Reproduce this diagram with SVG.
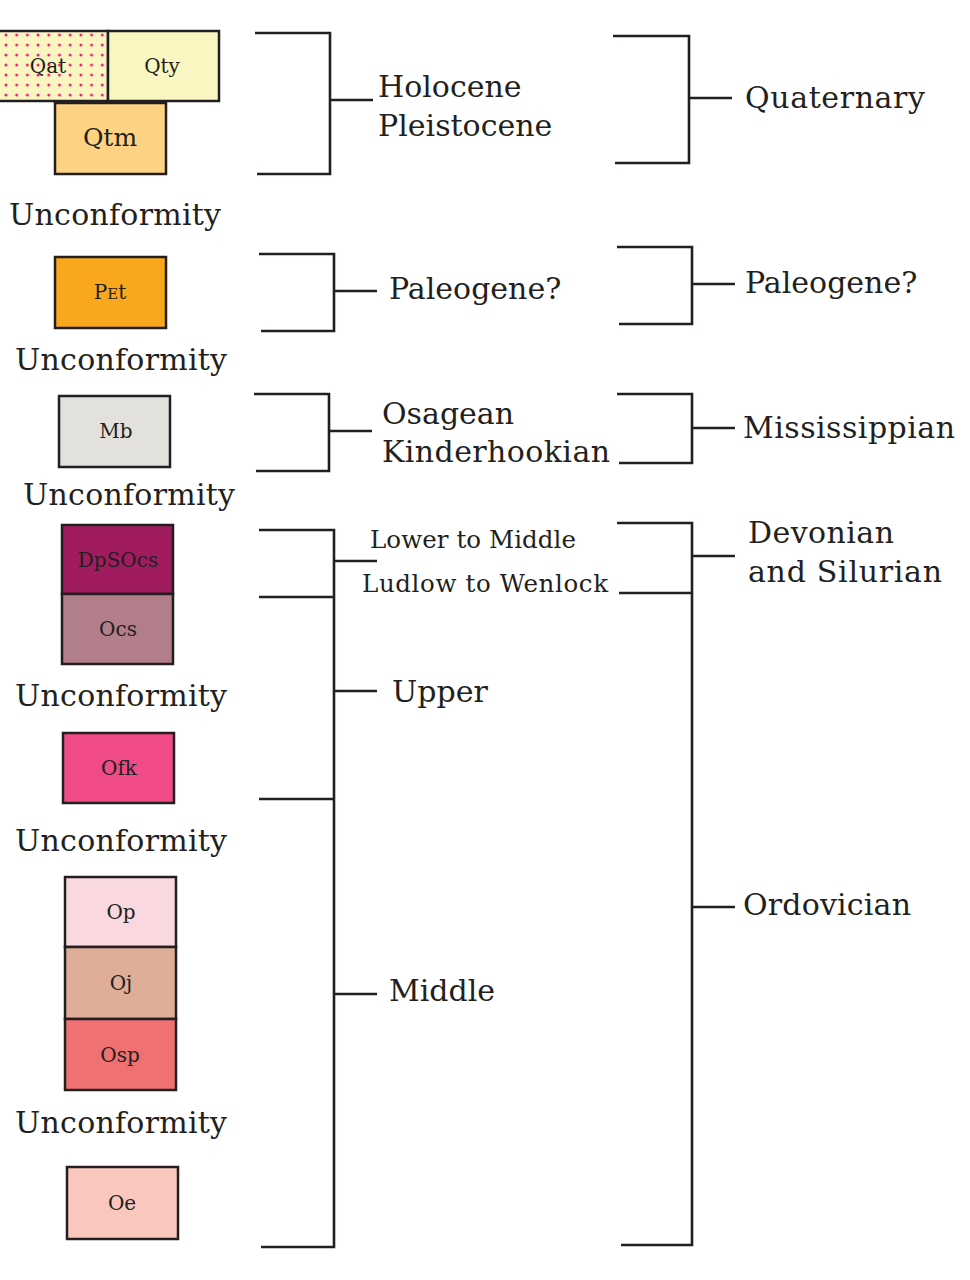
<svg xmlns="http://www.w3.org/2000/svg" width="970" height="1280" viewBox="0 0 970 1280">
<defs>
<pattern id="dots" x="4" y="3" width="10.7" height="10" patternUnits="userSpaceOnUse">
<circle cx="2" cy="2" r="1.5" fill="#e8247a"/>
</pattern>
<style>
.box{stroke:#231f20;stroke-width:2.5}
.bl{font-family:"DejaVu Serif","Liberation Serif",serif;font-size:20px;fill:#231f20;text-anchor:middle}
.lab{font-family:"DejaVu Serif","Liberation Serif",serif;font-size:30px;fill:#231f20}
.sm{font-family:"DejaVu Serif","Liberation Serif",serif;font-size:24.5px;fill:#231f20}
.br{fill:none;stroke:#231f20;stroke-width:2.6}
</style>
</defs>
<rect width="970" height="1280" fill="#ffffff"/>

<g id="Qat"><rect class="box" x="-3" y="31" width="111" height="70" fill="#faf6c2"/><rect x="0" y="33" width="107" height="67" fill="url(#dots)"/><text class="bl" x="48" y="73">Qat</text></g>
<g id="Qty"><rect class="box" x="108" y="31" width="111" height="70" fill="#faf6c2"/><text class="bl" x="162" y="73">Qty</text></g>
<g id="Qtm"><rect class="box" x="55" y="103" width="111" height="71" fill="#fed283"/><text class="bl" x="110" y="146" style="font-size:25px">Qtm</text></g>
<g id="PEt"><rect class="box" x="55" y="257" width="111" height="71" fill="#f9a81e"/><text class="bl" x="110" y="299">P<tspan style="font-size:15px">E</tspan>t</text></g>
<g id="Mb"><rect class="box" x="59" y="396" width="111" height="71" fill="#e2e1dc"/><text class="bl" x="116" y="438">Mb</text></g>
<g id="DpSOcs"><rect class="box" x="62" y="525" width="111" height="69" fill="#a01c5e"/><text class="bl" x="118" y="567">DpSOcs</text></g>
<g id="Ocs"><rect class="box" x="62" y="594" width="111" height="70" fill="#b27e89"/><text class="bl" x="118" y="636">Ocs</text></g>
<g id="Ofk"><rect class="box" x="63" y="733" width="111" height="70" fill="#f04a87"/><text class="bl" x="119" y="775">Ofk</text></g>
<g id="Op"><rect class="box" x="65" y="877" width="111" height="70" fill="#f9d9df"/><text class="bl" x="121" y="919">Op</text></g>
<g id="Oj"><rect class="box" x="65" y="947" width="111" height="72" fill="#deae98"/><text class="bl" x="121" y="990">Oj</text></g>
<g id="Osp"><rect class="box" x="65" y="1019" width="111" height="71" fill="#f07172"/><text class="bl" x="120" y="1062">Osp</text></g>
<g id="Oe"><rect class="box" x="67" y="1167" width="111" height="72" fill="#f9c7bd"/><text class="bl" x="122" y="1210">Oe</text></g>

<g id="unconformities">
<text class="lab" x="9" y="225" textLength="212">Unconformity</text>
<text class="lab" x="15" y="370" textLength="212">Unconformity</text>
<text class="lab" x="23" y="505" textLength="212">Unconformity</text>
<text class="lab" x="15" y="706" textLength="212">Unconformity</text>
<text class="lab" x="15" y="851" textLength="212">Unconformity</text>
<text class="lab" x="15" y="1133" textLength="212">Unconformity</text>
</g>

<g id="connectors">
<path class="br" d="M255 33H330V174H257M330 100H373"/>
<path class="br" d="M259 254H334V331H261M334 291H377"/>
<path class="br" d="M254 394H329V471H256M329 431H372"/>
<path class="br" d="M259 530H334V1247H261M334 561H377M259 597H334M334 691H377M259 799H334M334 994H377"/>
<path class="br" d="M613 36H689V163H615M689 98H732"/>
<path class="br" d="M617 247H692V324H619M692 284H735"/>
<path class="br" d="M617 394H692V463H619M692 428H735"/>
<path class="br" d="M617 523H692V1245H621M692 556H735M619 593H692M692 907H735"/>
</g>

<g id="labels">
<text class="lab" x="378" y="97">Holocene</text>
<text class="lab" x="378" y="136">Pleistocene</text>
<text class="lab" x="389" y="299">Paleogene?</text>
<text class="lab" x="382" y="424">Osagean</text>
<text class="lab" x="382" y="462" textLength="228">Kinderhookian</text>
<text class="sm" x="370" y="548" textLength="206">Lower to Middle</text>
<text class="sm" x="362" y="592" textLength="246">Ludlow to Wenlock</text>
<text class="lab" x="392" y="702">Upper</text>
<text class="lab" x="389" y="1001">Middle</text>
<text class="lab" x="745" y="108" textLength="180">Quaternary</text>
<text class="lab" x="745" y="293">Paleogene?</text>
<text class="lab" x="743" y="438" textLength="212">Mississippian</text>
<text class="lab" x="748" y="543" textLength="146">Devonian</text>
<text class="lab" x="748" y="582" textLength="194">and Silurian</text>
<text class="lab" x="743" y="915" textLength="168">Ordovician</text>
</g>
</svg>
